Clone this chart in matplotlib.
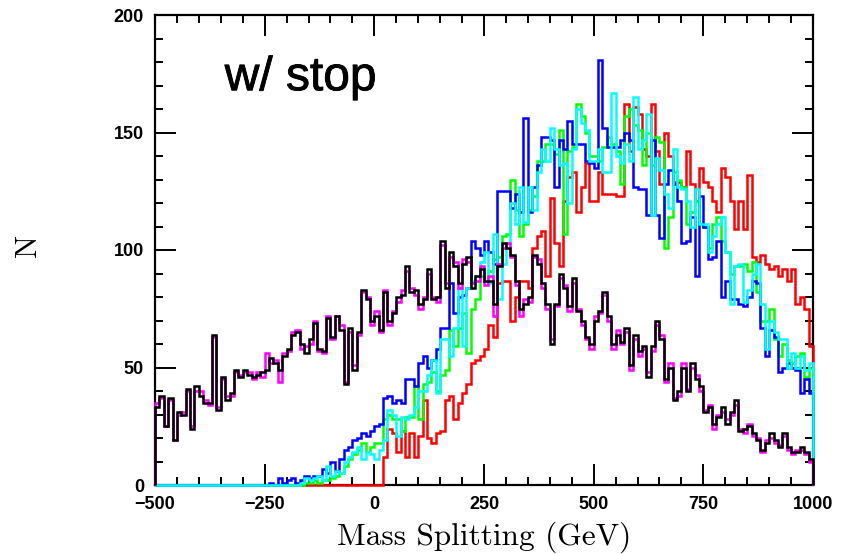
import numpy as np
import matplotlib
matplotlib.use("Agg")
import matplotlib.pyplot as plt
import matplotlib.patheffects as pe
from matplotlib.font_manager import FontProperties
from matplotlib.ticker import MultipleLocator

# Histogram binning (GeV)
x_min, x_max, bin_width = -500, 1000, 10

# Bin contents, 150 bins from -500 to 1000 GeV
black = [33, 38, 25, 37, 19, 31, 30, 41, 24, 42,
         38, 35, 35, 64, 32, 46, 36, 39, 49, 46,
         49, 47, 46, 47, 48, 49, 54, 52, 49, 55,
         58, 64, 65, 60, 56, 62, 69, 58, 57, 71,
         63, 72, 66, 43, 67, 49, 65, 83, 79, 70,
         72, 66, 82, 70, 73, 80, 81, 93, 82, 83,
         77, 79, 92, 79, 80, 104, 84, 99, 93, 86,
         94, 97, 84, 89, 92, 87,
         87, 77, 93, 103, 101, 98, 87, 75, 77, 80,
         98, 94, 86, 77, 60, 77, 90, 84, 76, 88,
         74, 70, 63, 60, 70, 74, 82, 72, 60, 64,
         61, 67, 51, 64, 57,
         59, 46, 59, 70, 62, 45, 50, 36, 40, 50,
         40, 52, 45, 42, 31, 33, 26, 29, 33, 26,
         31, 36, 23, 24, 25, 22, 19, 15, 18, 22,
         19, 16, 22, 16, 14, 14, 16, 14, 11]

magenta = [35, 37, 25, 36, 19, 30, 31, 40, 25, 40,
           40, 36, 34, 63, 33, 45, 38, 38, 48, 47,
           48, 48, 45, 48, 46, 56, 52, 53, 44, 56,
           57, 65, 66, 58, 59, 60, 70, 57, 56, 72,
           62, 72, 68, 44, 65, 51, 64, 82, 80, 68,
           74, 65, 83, 68, 74, 78, 83, 91, 84, 81,
           75, 80, 90, 80, 78, 102, 86, 97, 95, 84,
           96, 95, 86, 87, 93, 85,
           89, 72, 94, 101, 103, 97, 85, 72, 79, 78,
           97, 96, 84, 75, 62, 76, 88, 85, 74, 86,
           75, 68, 62, 58, 72, 73, 81, 70, 58, 66,
           60, 65, 49, 62, 55,
           58, 48, 57, 68, 64, 44, 52, 37, 38, 52,
           41, 50, 47, 40, 32, 34, 24, 30, 31, 28,
           30, 34, 24, 22, 26, 21, 20, 14, 19, 20,
           18, 17, 21, 15, 13, 15, 15, 13, 10]

blue = [0] * 25 + [
    0, 1, 0, 3, 1, 2, 3, 1, 2, 4,
    3, 4, 4, 7, 5, 10, 6, 11, 15, 16,
    19, 20, 22, 21, 23,
    25, 26, 37, 38, 35, 36, 35, 45, 45, 42,
    52, 55, 50, 53, 58, 67, 67, 86, 73, 80,
    81, 84, 104, 101, 98, 104,
    99, 94, 125, 125, 125, 118, 124, 116, 156, 116,
    127, 136, 148, 148, 147, 127, 147, 143, 155, 145,
    145, 145, 138, 137, 135, 181, 152, 144, 144, 144,
    147, 150, 147, 127, 126,
    126, 115, 147, 115, 105, 128, 134, 128, 121, 103,
    104, 114, 89, 123, 110, 96, 97, 104, 80, 87,
    79, 79, 77, 76, 80, 87, 86, 67, 55, 66,
    63, 48, 50, 52, 50, 49, 39, 45, 39]

green = [0] * 32 + [
    1, 0, 1, 1, 2, 1,
    2, 2, 3, 4, 5, 8, 11, 13, 15, 18,
    14, 16, 18, 18, 28, 30, 28, 28, 23, 29,
    29, 42, 28, 43, 44, 48, 40, 47, 49, 66,
    59, 67, 73, 56, 75, 79, 89, 87,
    91, 96, 97, 106, 107, 130, 117, 106, 111, 117,
    123, 138, 138, 145, 145, 141, 151, 107, 142, 144,
    162, 157, 150, 140, 140, 138, 144, 148, 145, 142,
    128, 157, 160, 153, 151,
    136, 150, 136, 148, 146, 101, 114, 133, 130, 127,
    111, 116, 121, 111, 110, 101, 111, 114, 104, 99,
    90, 93, 93, 94, 91, 95, 82, 70, 70, 75,
    62, 55, 60, 53, 52, 55, 56, 46, 50]

cyan = [0] * 33 + [
    1, 3, 2, 3, 4,
    2, 8, 4, 6, 5, 10, 12, 14, 16, 11,
    14, 13, 11, 15, 19, 32, 30, 21, 29, 28,
    30, 33, 40, 40, 47, 53, 39, 62, 62, 55,
    67, 84, 59, 84, 87, 89, 95, 99,
    86, 107, 79, 94, 103, 120, 111, 127, 112, 127,
    117, 133, 143, 138, 152, 143, 136, 137, 120, 143,
    160, 154, 151, 138, 138, 143, 133, 133, 167, 140,
    137, 145, 138, 165, 143,
    147, 158, 115, 139, 134, 124, 118, 143, 127, 126,
    121, 110, 126, 111, 111, 99, 106, 111, 114, 99,
    77, 93, 94, 78, 83, 90, 94, 77, 58, 70,
    65, 62, 62, 50, 56, 50, 55, 49, 52]

red = [0] * 52 + [
    12, 24, 22, 14, 23, 12, 22, 12, 21, 36,
    20, 18, 22, 23, 36, 38, 28, 35, 39, 43,
    52, 53, 55, 58,
    68, 63, 86, 87, 87, 70, 80, 87, 87, 84,
    101, 106, 108, 89, 122, 103, 93, 121, 131, 133,
    116, 127, 137, 121, 121, 133, 124, 124, 124, 123,
    123, 162, 142, 161, 158,
    143, 140, 162, 142, 128, 150, 140, 129, 129, 127,
    142, 128, 121, 135, 129, 127, 121, 116, 135, 131,
    121, 109, 121, 109, 132, 97, 95, 98, 94, 92,
    93, 89, 92, 87, 92, 77, 80, 75, 59]

edges = np.arange(x_min, x_max + bin_width, bin_width)

fig = plt.figure(figsize=(8.54, 5.54), dpi=100)
ax = fig.add_axes([155 / 854, 1 - 485 / 554, 658 / 854, 470 / 554])

series = [(red, "#ff0000"), (green, "#00ff00"), (blue, "#0000ff"),
          (cyan, "#00ffff"), (magenta, "#ff00ff"), (black, "#000000")]
for vals, col in series:
    ax.stairs(vals, edges, baseline=0, color=col, lw=1.8,
              zorder=3, clip_on=False)

ax.set_xlim(x_min, x_max)
ax.set_ylim(0, 200)

ax.xaxis.set_major_locator(MultipleLocator(250))
ax.xaxis.set_minor_locator(MultipleLocator(50))
ax.yaxis.set_major_locator(MultipleLocator(50))
ax.yaxis.set_minor_locator(MultipleLocator(10))
ax.tick_params(which="both", direction="in", top=True, right=True,
               color="black", width=1.4)
ax.tick_params(which="major", length=15, pad=8)
ax.tick_params(which="minor", length=6)
for s in ax.spines.values():
    s.set_linewidth(1.6)

tick_font = FontProperties(family="Liberation Sans", weight="bold", size=13)
for lab in ax.get_xticklabels() + ax.get_yticklabels():
    lab.set_fontproperties(tick_font)

ax.set_xlabel("Mass Splitting (GeV)", family="cmr10", fontsize=22.5, labelpad=6)
ax.set_ylabel("N", family="cmr10", fontsize=22)
ax.yaxis.set_label_coords(-0.172, 0.51)

ax.text(0.106, 0.840, "w/ stop", transform=ax.transAxes,
        family="Liberation Sans", fontsize=34.5, va="baseline", ha="left",
        path_effects=[pe.withStroke(linewidth=0.6, foreground="black")])

fig.savefig("out.png", dpi=100)
